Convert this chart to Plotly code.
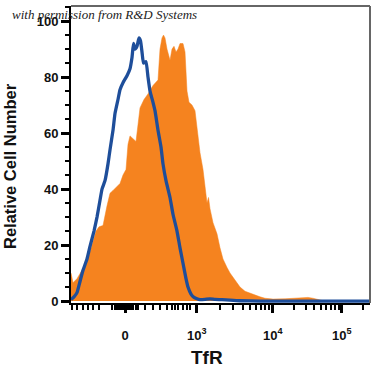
import plotly.graph_objects as go

# x positions are display channels of the logicle-scaled axis (0 .. 299)
orange_x = [0, 2, 6, 11, 16, 21, 25, 28, 32, 36, 39, 42, 46, 49, 52, 55, 57, 59, 62, 65, 67, 69, 73, 77,
            82, 85, 87, 89, 91, 92.5, 94, 96, 99, 101, 103, 105, 107, 109, 112, 114, 116, 118, 121, 124,
            126, 129, 132, 134, 136, 137.5, 139, 142, 146, 149, 152, 156, 159, 164, 169, 174, 179, 184,
            189, 194, 202, 214, 224, 231, 237, 242, 247, 251, 257, 299]
orange_y = [10, 6.5, 8, 11, 14, 20, 25, 26.5, 27, 34, 38.5, 39.5, 41, 42, 45, 47, 56, 59, 58, 57, 63, 69, 72, 74,
            77, 78, 79, 90, 94, 95, 94, 90, 86, 90, 91, 89, 90, 92, 92, 89, 75, 71, 70, 68,
            61, 53, 47, 40, 35, 37, 33, 28, 24, 19, 15, 12, 10, 7.5, 5, 3.5, 2.8, 2,
            1.5, 1, 0.7, 0.8, 1, 1.3, 1.3, 1, 0.5, 0.2, 0, 0]

blue_x = [0, 3, 6, 9, 12, 16, 19, 23, 26, 29, 31, 34, 37, 39, 42, 44, 47, 49, 52, 56, 59, 61, 62.5, 64, 66,
          68, 69.5, 71, 72.5, 75, 77, 79, 82, 84, 87, 90, 92, 95, 99, 102, 106, 109, 112, 115, 117, 120,
          123, 126, 129, 134, 139, 144, 151, 159, 169, 189, 299]
blue_y = [0.5, 1.5, 3, 7, 11, 15, 19.5, 25, 30, 36, 40, 43, 49, 54, 61, 67, 72, 75.5, 78, 80.5, 83, 87, 92, 90, 91,
          94, 93, 89, 85, 85.5, 80, 75, 71, 68, 61, 55, 49, 43, 37, 31, 25, 19, 13.5, 8, 5, 2.5,
          1.3, 0.8, 0.5, 0.6, 0.8, 0.6, 0.5, 0.3, 0.1, 0, 0]

major_vals = [54, 125.7, 201.7, 270.7]
major_text = ["0", "10<sup>3</sup>", "10<sup>4</sup>", "10<sup>5</sup>"]
minor_vals = [0.7, 5.7, 11.7, 17.3, 22.3, 28.3,
              41, 43.5, 46, 48, 50, 52, 56, 58, 60, 62, 64.5, 67,
              74, 82.3, 89, 95.7, 100.7, 104, 107.3, 111.7, 115.7, 119,
              148.6, 162, 171.5, 178.8, 184.8, 189.9, 194.3, 198.2,
              222.5, 234.6, 243.2, 249.9, 255.4, 260, 264, 267.5, 291.5]

y_ticks = [0, 20, 40, 60, 80, 100]

fig = go.Figure()
fig.add_trace(go.Scatter(x=orange_x, y=orange_y, mode="lines", fill="tozeroy",
                         line=dict(color="#F5831F", width=0.5), fillcolor="#F5831F",
                         hoverinfo="skip", showlegend=False))
fig.add_trace(go.Scatter(x=blue_x, y=blue_y, mode="lines",
                         line=dict(color="#1E4E9A", width=3.3, shape="spline", smoothing=0.4),
                         hoverinfo="skip", showlegend=False))

fig.update_layout(
    width=375, height=375,
    margin=dict(l=71, r=5, t=6, b=72),
    paper_bgcolor="white", plot_bgcolor="white",
    showlegend=False,
    xaxis=dict(range=[0, 299], showgrid=False, zeroline=False,
               showline=True, linecolor="black", linewidth=2,
               tickmode="array", tickvals=major_vals, ticktext=major_text,
               ticks="outside", ticklen=8, tickwidth=3, tickcolor="black",
               ticklabelstandoff=11,
               tickfont=dict(family="Liberation Sans", size=13, color="#111", weight="bold"),
               minor=dict(tickmode="array", tickvals=minor_vals, ticks="outside",
                          ticklen=5, tickwidth=2, tickcolor="black")),
    yaxis=dict(range=[-0.7, 105.4], showgrid=False, zeroline=False,
               showline=True, linecolor="black", linewidth=2,
               tickmode="array", tickvals=y_ticks,
               ticks="outside", ticklen=8, tickwidth=3, tickcolor="black",
               tickfont=dict(family="Liberation Sans", size=13, color="#111", weight="bold"),
               minor=dict(dtick=5, tick0=0, ticks="outside", ticklen=4, tickwidth=2, tickcolor="black")),
    shapes=[
        dict(type="line", xref="paper", yref="paper", x0=0, x1=1, y0=1, y1=1,
             line=dict(color="#666", width=2)),
        dict(type="line", xref="paper", yref="paper", x0=1, x1=1, y0=0, y1=1,
             line=dict(color="#666", width=2)),
    ],
    annotations=[
        dict(text="Relative Cell Number", xref="paper", yref="paper",
             x=(10 - 71) / 299, y=(303 - 166) / 297, textangle=-90, showarrow=False,
             xanchor="center", yanchor="middle",
             font=dict(family="Liberation Sans", size=16.5, color="#111", weight="bold")),
        dict(text="TfR", xref="paper", yref="paper",
             x=(207 - 71) / 299, y=(303 - 357) / 297, showarrow=False,
             xanchor="center", yanchor="middle",
             font=dict(family="Liberation Sans", size=19, color="#111", weight="bold")),
        dict(text="<i>with permission from R&amp;D Systems</i>", xref="paper", yref="paper",
             x=(10 - 71) / 299, y=(303 - 15) / 297, showarrow=False,
             xanchor="left", yanchor="middle",
             font=dict(family="Liberation Serif", size=13, color="#222")),
    ],
)

fig.write_html("out.html", config={"displayModeBar": False},
               post_script="document.body.style.margin='0';")
